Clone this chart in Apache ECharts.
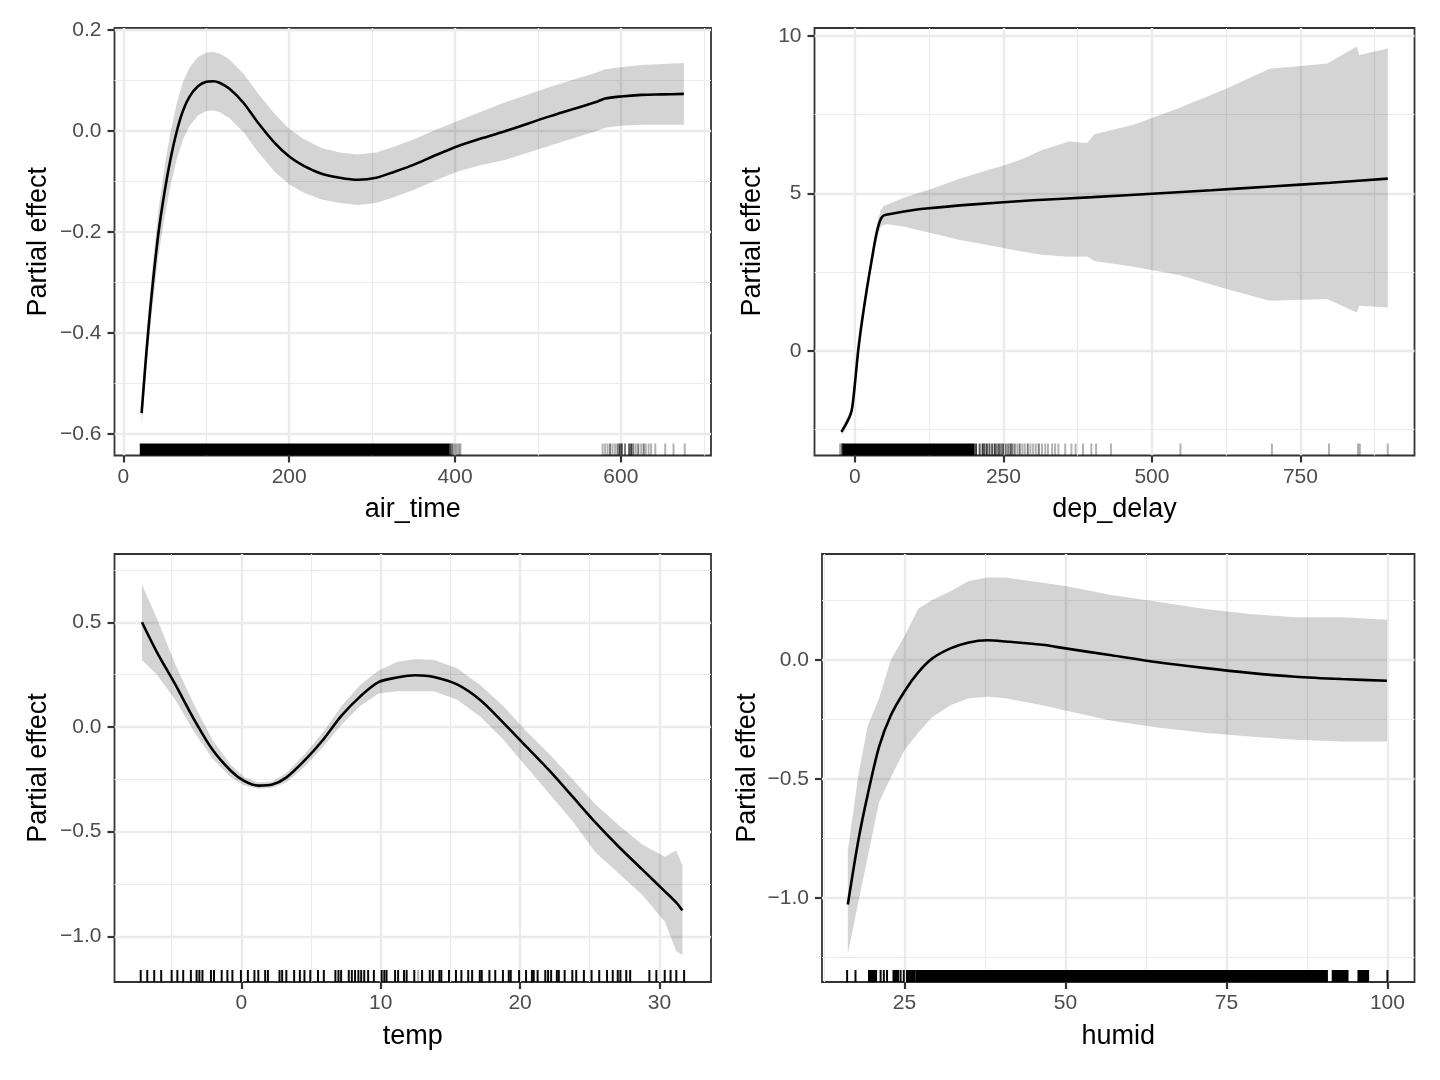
<!DOCTYPE html>
<html>
<head>
<meta charset="utf-8">
<script src="https://cdn.jsdelivr.net/npm/echarts@6.0.0/dist/echarts.min.js"></script>
<style>
  html, body { margin: 0; padding: 0; background: #fff; }
  #chart { width: 1440px; height: 1080px; }
</style>
</head>
<body>
<div id="chart"></div>
<script>
var FONT = '"Liberation Sans", Arial, Helvetica, sans-serif';

// air_time
var airTimeX = [22, 26, 29.8, 35, 42.5, 50, 57, 64.6, 72, 80, 90, 100, 108, 116, 128, 145, 161, 183, 200, 217, 239, 261, 283, 305, 327, 349, 377, 404, 432, 460, 515, 570, 581, 600, 625, 650, 676];
var airTimeFit = [-0.559, -0.475, -0.40, -0.31, -0.20, -0.118, -0.055, 0.0, 0.040, 0.068, 0.088, 0.097, 0.098, 0.095, 0.083, 0.055, 0.019, -0.025, -0.051, -0.069, -0.085, -0.093, -0.097, -0.093, -0.081, -0.068, -0.048, -0.030, -0.015, -0.001, 0.029, 0.057, 0.064, 0.068, 0.071, 0.072, 0.073];
var airTimeUpper = [-0.534, -0.445, -0.365, -0.27, -0.155, -0.068, -0.002, 0.055, 0.097, 0.126, 0.146, 0.155, 0.156, 0.153, 0.141, 0.113, 0.077, 0.032, 0.004, -0.016, -0.034, -0.043, -0.047, -0.043, -0.031, -0.018, 0.002, 0.020, 0.038, 0.056, 0.087, 0.115, 0.122, 0.126, 0.130, 0.132, 0.134];
var airTimeLower = [-0.584, -0.505, -0.435, -0.35, -0.245, -0.168, -0.108, -0.055, -0.017, 0.010, 0.030, 0.039, 0.040, 0.037, 0.025, -0.003, -0.039, -0.082, -0.106, -0.122, -0.136, -0.143, -0.147, -0.143, -0.131, -0.118, -0.098, -0.080, -0.068, -0.058, -0.029, -0.001, 0.006, 0.010, 0.012, 0.012, 0.012];
var airTimeRugBlocks = [[21, 392]];
var airTimeRugTicks = [[394, 3], [396, 2], [397, 1], [399, 1], [401, 1], [403, 1], [405, 1], [406.5, 1],
  [578, 1], [581, 1], [584, 1], [587, 2], [590, 1], [593, 1], [596, 2], [598.5, 4], [601, 4], [605, 2], [610, 3], [612.5, 4],
  [615, 2], [618, 1], [621, 2], [624.5, 1], [627.5, 2], [630, 1], [633.5, 1], [636.5, 1], [641.5, 1], [653.5, 1], [663.5, 1], [677, 1]];
var airTimeXTicks = [0, 200, 400, 600];
var airTimeXMinor = [100, 300, 500, 700];
var airTimeYTicks = [-0.6, -0.4, -0.2, 0, 0.2];
var airTimeYMinor = [-0.5, -0.3, -0.1, 0.1];

// dep_delay
var depDelayX = [-22.7, -15, -8, -4.5, 0, 5.5, 12, 20, 28, 35, 40, 44, 48, 55, 80, 120, 200, 300, 400, 500, 600, 700, 800, 897];
var depDelayFit = [-2.57, -2.32, -2.05, -1.8, -1.05, 0, 0.95, 1.95, 2.85, 3.6, 4.0, 4.2, 4.29, 4.33, 4.42, 4.52, 4.65, 4.78, 4.88, 4.99, 5.1, 5.22, 5.34, 5.47];
var depDelayBandX = [-22.7, -15, -8, -4.5, 0, 5.5, 12, 20, 28, 35, 40, 44, 48, 55, 81, 128, 175, 221, 252, 283, 314, 360, 391, 403, 469, 547, 624, 698, 795, 845, 849, 897];
var depDelayUpper = [-2.45, -2.19, -1.92, -1.66, -0.9, 0.15, 1.1, 2.12, 3.05, 3.82, 4.25, 4.47, 4.6, 4.65, 4.85, 5.14, 5.46, 5.73, 5.89, 6.1, 6.37, 6.65, 6.6, 6.88, 7.18, 7.72, 8.31, 8.96, 9.12, 9.66, 9.39, 9.6];
var depDelayLower = [-2.69, -2.45, -2.18, -1.94, -1.2, -0.15, 0.8, 1.78, 2.65, 3.38, 3.75, 3.95, 4.0, 4.02, 3.95, 3.74, 3.53, 3.37, 3.26, 3.15, 3.05, 2.99, 3.0, 2.85, 2.67, 2.40, 1.97, 1.59, 1.65, 1.22, 1.43, 1.38];
var depDelayRugBlocks = [[-19, 200]];
var depDelayRugTicks = [[-25, 1], [-22, 2], [-20.5, 3], [204, 4], [210, 3], [215, 4], [218, 3], [222, 4], [226.5, 3], [231, 3], [235.5, 4],
  [239, 2], [242.5, 3], [246, 2], [249.5, 3], [254, 2], [258, 2], [262, 3], [265, 2], [269, 2], [273.5, 1], [277.5, 2], [282, 1],
  [286, 1], [291, 2], [295.5, 1], [300, 1], [304.5, 1], [309.5, 2], [315, 1], [320.5, 1], [325, 1], [332, 1], [337, 1], [342.5, 1],
  [354, 1], [364.5, 1], [371.5, 1], [384, 1], [398, 1], [406, 1], [431, 1], [548, 1], [702, 1], [798, 1], [847, 1], [850, 1], [897, 1]];
var depDelayXTicks = [0, 250, 500, 750];
var depDelayXMinor = [125, 375, 625, 875];
var depDelayYTicks = [0, 5, 10];
var depDelayYMinor = [-2.5, 2.5, 7.5];

// temp
var tempX = [-7.13, -6.07, -4.74, -3.41, -2.09, -0.76, 0.23, 1.23, 2.22, 3.22, 4.54, 5.87, 7.19, 8.52, 9.84, 11.17, 12.5, 13.82, 15.48, 17.14, 18.79, 20.45, 22.11, 23.77, 25.42, 27.08, 28.74, 30.39, 31.2, 31.65];
var tempFit = [0.5, 0.359, 0.203, 0.038, -0.107, -0.209, -0.259, -0.280, -0.275, -0.242, -0.160, -0.061, 0.054, 0.145, 0.214, 0.236, 0.247, 0.239, 0.203, 0.129, 0.021, -0.094, -0.209, -0.333, -0.457, -0.572, -0.679, -0.785, -0.838, -0.877];
var tempUpper = [0.68, 0.52, 0.30, 0.11, -0.06, -0.18, -0.24, -0.265, -0.26, -0.22, -0.13, -0.025, 0.10, 0.20, 0.27, 0.31, 0.325, 0.32, 0.28, 0.20, 0.10, -0.02, -0.13, -0.25, -0.37, -0.47, -0.56, -0.62, -0.59, -0.66];
var tempLower = [0.32, 0.25, 0.13, -0.02, -0.15, -0.24, -0.28, -0.295, -0.29, -0.265, -0.19, -0.095, 0.01, 0.10, 0.16, 0.17, 0.17, 0.17, 0.13, 0.05, -0.06, -0.19, -0.32, -0.45, -0.60, -0.70, -0.80, -0.93, -1.07, -1.09];
var tempRugBlocks = [];
var tempRugTicks = [[-7.22, 10], [-6.75, 10], [-6.25, 10], [-5.75, 10], [-5.0, 10], [-4.59, 10], [-4.17, 10], [-3.62, 10], [-3.21, 10],
  [-3.01, 10], [-2.79, 10], [-2.18, 10], [-1.96, 10], [-1.41, 10], [-1.0, 10], [-0.64, 10], [-0.03, 10], [0.47, 10], [0.94, 10],
  [1.22, 10], [1.71, 10], [1.91, 10], [2.74, 10], [2.93, 10], [3.23, 10], [3.79, 10], [4.2, 10], [4.53, 10], [4.95, 10], [5.5, 10],
  [5.92, 10], [6.75, 10], [6.97, 10], [7.16, 10], [7.71, 10], [7.93, 10], [8.16, 10], [8.4, 10], [8.6, 10], [8.82, 10], [9.1, 10],
  [9.51, 10], [10.07, 10], [10.26, 10], [10.42, 10], [11.03, 10], [11.25, 10], [11.67, 10], [11.86, 10], [12.41, 10], [12.69, 1],
  [12.97, 10], [13.52, 10], [13.74, 10], [14.21, 10], [14.35, 10], [14.9, 10], [15.4, 10], [15.79, 10], [16.28, 10], [16.56, 10],
  [17.11, 10], [17.25, 10], [17.8, 10], [18.22, 10], [18.77, 10], [19.19, 10], [19.33, 10], [19.93, 10], [20.43, 10], [20.85, 10],
  [20.98, 10], [21.26, 10], [21.81, 10], [22.01, 10], [22.23, 10], [22.64, 10], [22.78, 10], [23.2, 10], [23.75, 10], [24.03, 10],
  [24.58, 10], [25.13, 10], [25.68, 10], [26.24, 10], [26.65, 10], [27.01, 10], [27.2, 10], [27.62, 10], [27.9, 10], [29.28, 10],
  [29.78, 10], [30.38, 10], [30.8, 10], [31.21, 10], [31.77, 10]];
var tempXTicks = [0, 10, 20, 30];
var tempXMinor = [-5, 5, 15, 25];
var tempYTicks = [-1.0, -0.5, 0, 0.5];
var tempYMinor = [-0.75, -0.25, 0.25, 0.75];

// humid
var humidX = [16.21, 17.86, 19.29, 21.07, 22.86, 25.0, 27.14, 29.29, 32.14, 35.0, 37.86, 40.71, 46.43, 50, 57.14, 64.29, 71.43, 78.57, 85.71, 92.86, 99.93];
var humidFit = [-1.028, -0.756, -0.567, -0.364, -0.234, -0.132, -0.052, 0.006, 0.049, 0.074, 0.083, 0.078, 0.064, 0.049, 0.020, -0.009, -0.033, -0.054, -0.070, -0.080, -0.087];
var humidUpper = [-0.80, -0.48, -0.277, -0.161, -0.001, 0.10, 0.216, 0.253, 0.289, 0.332, 0.347, 0.347, 0.325, 0.311, 0.274, 0.245, 0.216, 0.194, 0.18, 0.18, 0.17];
var humidLower = [-1.235, -1.017, -0.829, -0.597, -0.495, -0.379, -0.306, -0.241, -0.190, -0.161, -0.154, -0.161, -0.19, -0.212, -0.255, -0.284, -0.306, -0.321, -0.335, -0.343, -0.343];
var humidRugBlocks = [[19.5, 20.6], [23.3, 24.0], [25.4, 26.6], [26.9, 79.1], [79.3, 90.6], [91.5, 93.8], [95.5, 97.0]];
var humidRugTicks = [[16.1, 10], [17.4, 10], [21.3, 10], [21.8, 10], [22.3, 10], [24.4, 10], [24.9, 10], [100, 10]];
var humidXTicks = [25, 50, 75, 100];
var humidXMinor = [12.5, 37.5, 62.5, 87.5];
var humidYTicks = [-1.0, -0.5, 0];
var humidYMinor = [-1.25, -0.75, -0.25, 0.25];

var panels = [
  { rect: [114.5, 28, 596.5, 427.5], xName: 'air_time', xRange: [-10.7, 708.7], yRange: [-0.643, 0.2035],
    x: airTimeX, fit: airTimeFit, bandX: airTimeX, upper: airTimeUpper, lower: airTimeLower,
    rugBlocks: airTimeRugBlocks, rugTicks: airTimeRugTicks,
    xTicks: airTimeXTicks, xMinor: airTimeXMinor, yTicks: airTimeYTicks, yMinor: airTimeYMinor, yDec: 1, yNameGap: 62 },
  { rect: [814.5, 28, 600, 427.5], xName: 'dep_delay', xRange: [-68, 942], yRange: [-3.32, 10.25],
    x: depDelayX, fit: depDelayFit, bandX: depDelayBandX, upper: depDelayUpper, lower: depDelayLower,
    rugBlocks: depDelayRugBlocks, rugTicks: depDelayRugTicks,
    xTicks: depDelayXTicks, xMinor: depDelayXMinor, yTicks: depDelayYTicks, yMinor: depDelayYMinor, yDec: 0, yNameGap: 48 },
  { rect: [114.5, 554, 596.5, 428], xName: 'temp', xRange: [-9.1, 33.7], yRange: [-1.218, 0.826],
    x: tempX, fit: tempFit, bandX: tempX, upper: tempUpper, lower: tempLower,
    rugBlocks: tempRugBlocks, rugTicks: tempRugTicks,
    xTicks: tempXTicks, xMinor: tempXMinor, yTicks: tempYTicks, yMinor: tempYMinor, yDec: 1, yNameGap: 62 },
  { rect: [822, 554, 592.5, 428], xName: 'humid', xRange: [12.2, 104.2], yRange: [-1.354, 0.446],
    x: humidX, fit: humidFit, bandX: humidX, upper: humidUpper, lower: humidLower,
    rugBlocks: humidRugBlocks, rugTicks: humidRugTicks,
    xTicks: humidXTicks, xMinor: humidXMinor, yTicks: humidYTicks, yMinor: humidYMinor, yDec: 1, yNameGap: 61 }
];

function fmt(dec) {
  return function (v) {
    return (v < -1e-9 ? '\u2212' : '') + Math.abs(v).toFixed(dec);
  };
}

var grids = [], xAxes = [], yAxes = [], series = [];

panels.forEach(function (p, i) {
  grids.push({
    left: p.rect[0], top: p.rect[1], width: p.rect[2], height: p.rect[3],
    show: true, borderColor: '#333333', borderWidth: 1.8, backgroundColor: '#ffffff',
    containLabel: false, outerBoundsMode: 'none'
  });

  // major x axis with labels, minor x axis only for grid lines
  xAxes.push({
    type: 'value', gridIndex: i, min: p.xRange[0], max: p.xRange[1], position: 'bottom',
    name: p.xName, nameLocation: 'middle', nameGap: 41,
    nameTextStyle: { color: '#000', fontSize: 27, fontFamily: FONT },
    axisLine: { show: false, onZero: false },
    axisTick: { show: true, length: 7, lineStyle: { color: '#333333', width: 2.2 }, customValues: p.xTicks },
    axisLabel: { customValues: p.xTicks, color: '#4d4d4d', fontSize: 21, fontFamily: FONT, margin: 11, formatter: fmt(0) },
    splitLine: { show: true, lineStyle: { color: '#ebebeb', width: 2.4 } }
  });
  xAxes.push({
    type: 'value', gridIndex: i, min: p.xRange[0], max: p.xRange[1], position: 'bottom',
    axisLine: { show: false, onZero: false }, axisLabel: { show: false },
    axisTick: { show: false, customValues: p.xMinor },
    splitLine: { show: true, lineStyle: { color: '#ebebeb', width: 1.2 } }
  });

  yAxes.push({
    type: 'value', gridIndex: i, min: p.yRange[0], max: p.yRange[1], position: 'left',
    name: 'Partial effect', nameLocation: 'middle', nameRotate: 90, nameGap: p.yNameGap,
    nameTextStyle: { color: '#000', fontSize: 27, fontFamily: FONT },
    axisLine: { show: false, onZero: false },
    axisTick: { show: true, length: 7, lineStyle: { color: '#333333', width: 2.2 }, customValues: p.yTicks },
    axisLabel: { customValues: p.yTicks, color: '#4d4d4d', fontSize: 21, fontFamily: FONT, margin: 13, formatter: fmt(p.yDec) },
    splitLine: { show: true, lineStyle: { color: '#ebebeb', width: 2.4 } }
  });
  yAxes.push({
    type: 'value', gridIndex: i, min: p.yRange[0], max: p.yRange[1], position: 'left',
    axisLine: { show: false, onZero: false }, axisLabel: { show: false },
    axisTick: { show: false, customValues: p.yMinor },
    splitLine: { show: true, lineStyle: { color: '#ebebeb', width: 1.2 } }
  });

  var xi = 2 * i, yi = 2 * i;

  // confidence band
  series.push({
    type: 'custom', xAxisIndex: xi, yAxisIndex: yi, silent: true, z: 2,
    data: [[p.bandX[0], p.upper[0]]],
    renderItem: function (params, api) {
      var pts = [];
      for (var k = 0; k < p.bandX.length; k++) pts.push(api.coord([p.bandX[k], p.upper[k]]));
      for (var k2 = p.bandX.length - 1; k2 >= 0; k2--) pts.push(api.coord([p.bandX[k2], p.lower[k2]]));
      return { type: 'polygon', shape: { points: pts }, style: { fill: 'rgba(0,0,0,0.17)' } };
    }
  });

  // fitted smooth
  series.push({
    type: 'line', xAxisIndex: xi, yAxisIndex: yi, silent: true, z: 4,
    data: p.x.map(function (x, k) { return [x, p.fit[k]]; }),
    showSymbol: false, smooth: 0.3,
    lineStyle: { color: '#000', width: 2.6 }
  });

  // rug
  var rug = p.rugBlocks.map(function (b) { return [b[0], b[1], 20]; })
    .concat(p.rugTicks.map(function (t) { return [t[0], t[0], t[1]]; }));
  series.push({
    type: 'custom', xAxisIndex: xi, yAxisIndex: yi, silent: true, z: 3,
    data: rug,
    renderItem: function (params, api) {
      var cs = params.coordSys;
      var bottom = cs.y + cs.height;
      var a = api.coord([api.value(0), p.yRange[0]]);
      var b = api.coord([api.value(1), p.yRange[0]]);
      var w = Math.max(b[0] - a[0], 0) + 2;
      return {
        type: 'rect',
        shape: { x: a[0] - 1, y: bottom - 12, width: w, height: 12 },
        style: { fill: '#000', opacity: 1 - Math.pow(0.7, api.value(2)) }
      };
    }
  });
});

var chart = echarts.init(document.getElementById('chart'));
chart.setOption({
  backgroundColor: '#ffffff',
  animation: false,
  grid: grids,
  xAxis: xAxes,
  yAxis: yAxes,
  series: series
});
</script>
</body>
</html>
